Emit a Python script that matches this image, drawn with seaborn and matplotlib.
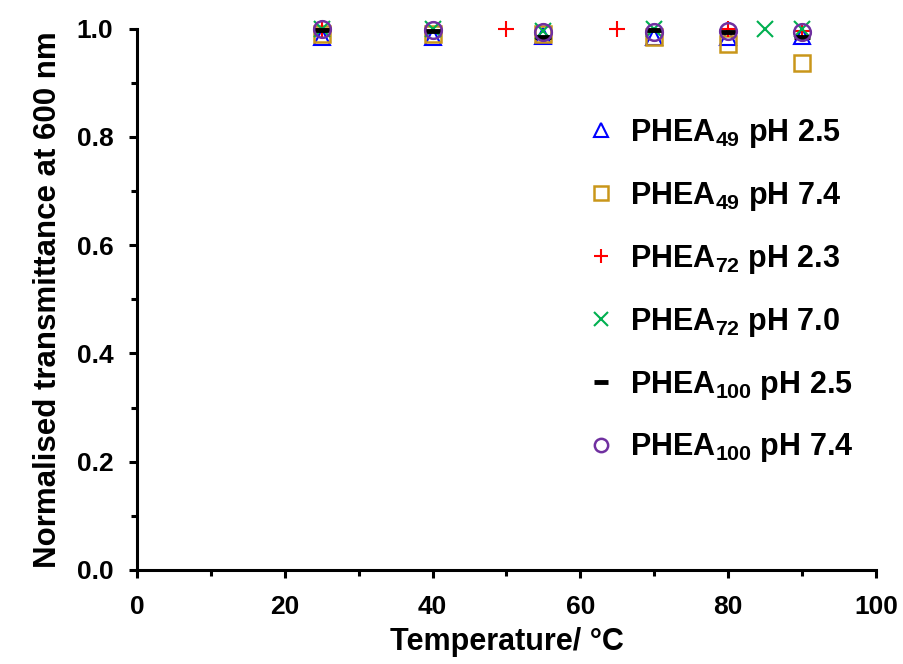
import pandas as pd
import matplotlib
matplotlib.use("Agg")
from matplotlib import pyplot as plt
from matplotlib.ticker import MultipleLocator, FormatStrFormatter
import seaborn as sns

# values: temperature (°C) and normalised transmittance
t_49_25 = [25, 40, 55, 70, 80, 90]
y_49_25 = [0.985, 0.985, 0.987, 0.985, 0.985, 0.987]
t_49_74 = [25, 40, 55, 70, 80, 90]
y_49_74 = [0.99, 0.99, 0.99, 0.985, 0.972, 0.937]
t_72_23 = [25, 50, 65, 80, 90]
y_72_23 = [1.0, 1.0, 1.0, 1.0, 0.995]
t_72_70 = [25, 40, 55, 70, 85, 90]
y_72_70 = [1.0, 1.0, 0.995, 1.0, 1.0, 1.0]
t_100_25 = [25, 40, 55, 70, 80, 90]
y_100_25 = [0.998, 0.996, 0.985, 0.998, 0.993, 0.985]
t_100_74 = [25, 40, 55, 70, 80, 90]
y_100_74 = [1.0, 0.998, 0.993, 0.993, 0.995, 0.994]

labels = ['PHEA$_{49}$ pH 2.5', 'PHEA$_{49}$ pH 7.4', 'PHEA$_{72}$ pH 2.3',
          'PHEA$_{72}$ pH 7.0', 'PHEA$_{100}$ pH 2.5', 'PHEA$_{100}$ pH 7.4']
temps = [t_49_25, t_49_74, t_72_23, t_72_70, t_100_25, t_100_74]
trans = [y_49_25, y_49_74, y_72_23, y_72_70, y_100_25, y_100_74]

# long form table
df = pd.concat([pd.DataFrame({'Temperature': t, 'Transmittance': y, 'Sample': lab})
                for t, y, lab in zip(temps, trans, labels)], ignore_index=True)

sns.set_style('ticks')
plt.rcParams['font.family'] = ['Liberation Sans', 'DejaVu Sans']
plt.rcParams['font.weight'] = 'bold'
plt.rcParams['mathtext.fontset'] = 'custom'
plt.rcParams['mathtext.bf'] = 'Liberation Sans:bold'
plt.rcParams['mathtext.rm'] = 'Liberation Sans:bold'
plt.rcParams['mathtext.default'] = 'bf'
for key in ['text.color', 'axes.labelcolor', 'xtick.color', 'ytick.color', 'axes.edgecolor']:
    plt.rcParams[key] = 'black'

markers = ['^', 's', '+', 'x', '_', 'o']
colors = ['#0000FF', '#C9961A', '#FF0000', '#00B050', '#000000', '#7030A0']
mews = [1.5, 1.8, 1.5, 1.5, 3.5, 1.8]

fig = plt.figure(figsize=(9.04, 6.64), dpi=100)
ax = fig.add_axes([0.1515, 0.1416, 0.8175, 0.8154])

for lab, m, c, w in zip(labels, markers, colors, mews):
    sns.lineplot(data=df[df['Sample'] == lab], x='Temperature', y='Transmittance',
                 ax=ax, marker=m, linestyle='', color=c, mec=c, mfc='none',
                 ms=12, mew=w, errorbar=None, label=lab, clip_on=False)

ax.set_xlim(0, 100)
ax.set_ylim(0, 1.0)
ax.xaxis.set_major_locator(MultipleLocator(20))
ax.xaxis.set_minor_locator(MultipleLocator(10))
ax.yaxis.set_major_locator(MultipleLocator(0.2))
ax.yaxis.set_minor_locator(MultipleLocator(0.1))
ax.yaxis.set_major_formatter(FormatStrFormatter('%.1f'))

for s in ['top', 'right']:
    ax.spines[s].set_visible(False)
for s in ['left', 'bottom']:
    ax.spines[s].set_linewidth(2.2)
ax.tick_params(which='major', direction='out', length=6, width=2.2, labelsize=19)
ax.tick_params(axis='x', which='major', pad=12)
ax.tick_params(axis='y', which='major', pad=11)
ax.tick_params(which='minor', direction='out', length=4.5, width=2.2)

ax.set_xlabel('Temperature/ °C', fontsize=22, fontweight='bold', labelpad=6)
ax.set_ylabel('Normalised transmittance at 600 nm', fontsize=22.5, fontweight='bold', labelpad=10)

handles = ax.get_lines()
ax.legend(handles=handles, labels=labels, loc='center left',
          bbox_to_anchor=(0.607, 0.516), frameon=False, fontsize=22,
          handlelength=1.0, handletextpad=0.45, labelspacing=0.98,
          borderpad=0, borderaxespad=0, markerscale=0.8)

fig.savefig('out.png', dpi=100)
